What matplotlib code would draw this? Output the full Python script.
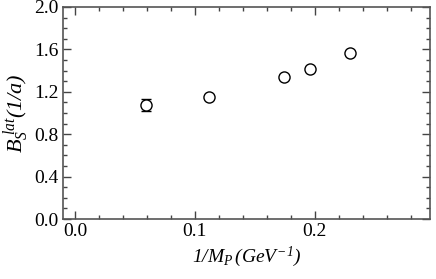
import matplotlib
matplotlib.use("Agg")
import matplotlib.pyplot as plt
from matplotlib.ticker import MultipleLocator

plt.rcParams['font.family'] = ['Liberation Serif', 'DejaVu Serif']
plt.rcParams['mathtext.fontset'] = 'custom'
plt.rcParams['mathtext.it'] = 'Liberation Serif:italic'
plt.rcParams['mathtext.rm'] = 'Liberation Serif:italic'

inv_mp = [0.059, 0.1117, 0.174, 0.196, 0.229]
bs_lat = [1.073, 1.154, 1.337, 1.415, 1.569]
bs_err = [0.057, 0.0, 0.0, 0.0, 0.0]

fig = plt.figure(figsize=(4.36, 2.79), dpi=100)
ax = fig.add_axes([0.1445, 0.215, 0.8415, 0.76])
ax.errorbar(inv_mp, bs_lat, yerr=bs_err, fmt='o', mfc='white', mec='black',
            ecolor='black', ms=8, mew=1.0, capsize=3.5, elinewidth=1.0, capthick=1.0)
ax.set_xlim(-0.01, 0.296)
ax.set_ylim(0.0, 2.0)
ax.xaxis.set_major_locator(MultipleLocator(0.1))
ax.xaxis.set_minor_locator(MultipleLocator(0.02))
ax.yaxis.set_major_locator(MultipleLocator(0.4))
ax.yaxis.set_minor_locator(MultipleLocator(0.1))
ax.set_xticks([0.0, 0.1, 0.2])
ax.set_xticklabels(['0.0', '0.1', '0.2'])
ax.set_yticklabels(['%.1f' % v for v in ax.get_yticks()])
ax.tick_params(which='both', direction='in', top=True, right=True, labelsize=14, color='#444444')
ax.tick_params(which='major', length=6, width=1, pad=3)
ax.tick_params(which='minor', length=3, width=1)
for s in ax.spines.values():
    s.set_color('#555555')
    s.set_linewidth(1.2)
ax.set_xlabel(r'$\mathit{1}/M_P\,(GeV^{-\mathit{1}})$', fontsize=14, labelpad=3)
ax.set_ylabel(r'$B_S^{\;lat}(\mathit{1}/a)$', fontsize=16, labelpad=2)
fig.savefig('out.png', dpi=100)
